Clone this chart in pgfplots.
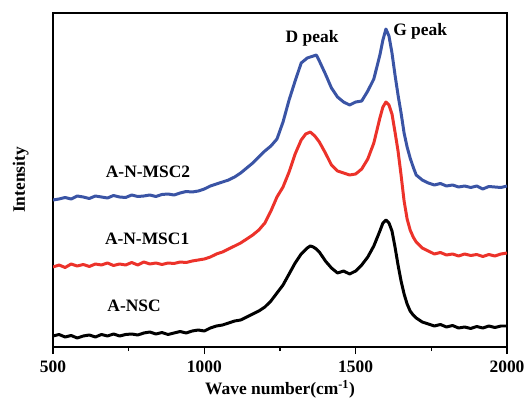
\documentclass[border=0pt]{standalone}
\usepackage{fontspec}
\setmainfont{Liberation Serif}
\usepackage{pgfplots}
\pgfplotsset{compat=1.18}
\definecolor{cblue}{RGB}{58,84,165}
\definecolor{cred}{RGB}{236,50,42}
\begin{document}
\begin{tikzpicture}
\useasboundingbox (-53bp,-53bp) rectangle (472bp,347bp);
\begin{axis}[
    at={(0,0)}, anchor=south west,
    scale only axis, width=454bp, height=334bp,
    xmin=500, xmax=2000, ymin=0, ymax=334,
    xtick={500,1000,1500,2000},
    minor xtick={750,1250,1750},
    ytick=\empty,
    tick pos=bottom, tick align=outside,
    major tick length=7bp, minor tick length=4bp,
    axis line style={line width=1.1pt},
    every tick/.style={line width=1.1pt, black},
    /pgf/number format/1000 sep={},
    /pgf/number format/assume math mode=true,
    ticklabel style={font=\fontsize{17.5}{17.5}\selectfont\bfseries},
    xticklabel style={yshift=-3bp},
    xlabel={Wave number(cm\textsuperscript{-1})},
    ylabel={Intensity},
    every axis x label/.style={at={(axis description cs:0.5,-0.126)}, anchor=center,
        font=\fontsize{17.5}{17.5}\selectfont\bfseries},
    every axis y label/.style={at={(axis description cs:-0.071,0.5)}, anchor=center, rotate=90,
        font=\fontsize{17.5}{17.5}\selectfont\bfseries},
    every axis plot/.style={line width=3pt, line join=round},
    clip=true,
]
\addplot[black] coordinates {
(500,11)(520,12.5)(540,10)(560,11.5)(580,9)(600,11)(620,12)(640,10)(660,12.5)(680,11)(700,13)(720,11)(740,12.5)(760,13)(780,12)(800,14)(820,15)(840,13)(860,14.5)(880,12.5)(900,14)(920,15.5)(940,14)(960,16)(980,17)(1000,16)(1020,19)(1040,21)(1060,22)(1080,24)(1100,26)(1120,27)(1140,30)(1160,33)(1180,36)(1200,40)(1220,46)(1240,54)(1260,62)(1280,73)(1300,84)(1320,93)(1340,99)(1350,101)(1360,100)(1370,98)(1380,95)(1400,86)(1420,79)(1440,74)(1460,76)(1480,73)(1500,76)(1520,82)(1540,90)(1560,101)(1580,116)(1590,124)(1600,127)(1610,124)(1620,116)(1630,100)(1640,82)(1650,66)(1660,53)(1670,43)(1680,36)(1690,32)(1700,29)(1720,25)(1740,23)(1760,21)(1780,22.5)(1800,20)(1820,21.5)(1840,19)(1860,20)(1880,18.5)(1900,20.5)(1920,19)(1940,21)(1960,19.5)(1980,21)(2000,21)
};
\addplot[cred] coordinates {
(500,80)(520,82)(540,79.5)(560,83)(580,81)(600,82.5)(620,80.5)(640,83)(660,82)(680,84)(700,81.5)(720,83)(740,82)(760,84.5)(780,82)(800,85)(820,83)(840,84)(860,82.5)(880,84)(900,83.5)(920,85)(940,84.5)(960,86)(980,87)(1000,88)(1020,90)(1040,93)(1060,95)(1080,98)(1100,101)(1120,104)(1140,108)(1160,112)(1180,117)(1200,124)(1220,136)(1240,150)(1260,160)(1280,175)(1300,193)(1320,207)(1335,213)(1350,215)(1365,211)(1380,205)(1400,194)(1420,182)(1440,176)(1460,174)(1480,172)(1500,173)(1520,178)(1540,188)(1560,204)(1580,229)(1590,240)(1600,245)(1610,242)(1620,233)(1630,215)(1640,196)(1650,172)(1660,146)(1670,128)(1680,117)(1690,110)(1700,105)(1720,99)(1740,96)(1760,93)(1780,94.5)(1800,92)(1820,93)(1840,91)(1860,93)(1880,91.5)(1900,92.5)(1920,90.5)(1940,92.5)(1960,91)(1980,93)(2000,94)
};
\addplot[cblue] coordinates {
(500,147)(520,148)(540,149.5)(560,148)(580,151)(600,150)(620,148.5)(640,151)(660,150)(680,149)(700,151.5)(720,150)(740,149.5)(760,152)(780,150.5)(800,151)(820,152)(840,150.5)(860,152.5)(880,153)(900,152)(920,154)(940,155.5)(960,155)(980,156)(1000,158)(1020,161)(1040,163)(1060,165)(1080,167)(1100,170)(1120,174)(1140,179)(1160,184)(1180,190)(1200,196)(1220,201)(1240,208)(1260,225)(1280,247)(1300,266)(1320,284)(1340,289)(1360,291)(1370,292)(1380,286)(1400,273)(1420,259)(1440,250)(1460,245)(1480,242)(1500,245)(1520,246)(1540,256)(1560,268)(1580,292)(1590,307)(1600,318)(1610,311)(1620,294)(1630,272)(1640,252)(1650,234)(1660,214)(1670,200)(1680,189)(1690,180)(1700,172)(1720,167)(1740,164)(1760,162)(1780,163.5)(1800,161)(1820,162)(1840,160)(1860,161)(1880,159.5)(1900,161)(1920,158)(1940,160.5)(1960,160)(1980,159.5)(2000,161)
};
\node[font=\fontsize{17.5}{17.5}\selectfont\bfseries] at (axis cs:814,175) {A-N-MSC2};
\node[font=\fontsize{17.5}{17.5}\selectfont\bfseries] at (axis cs:811,108) {A-N-MSC1};
\node[font=\fontsize{17.5}{17.5}\selectfont\bfseries] at (axis cs:768,41) {A-NSC};
\node[font=\fontsize{17.5}{17.5}\selectfont\bfseries] at (axis cs:1356,309) {D peak};
\node[font=\fontsize{17.5}{17.5}\selectfont\bfseries] at (axis cs:1713,316) {G peak};
\end{axis}
\end{tikzpicture}
\end{document}
